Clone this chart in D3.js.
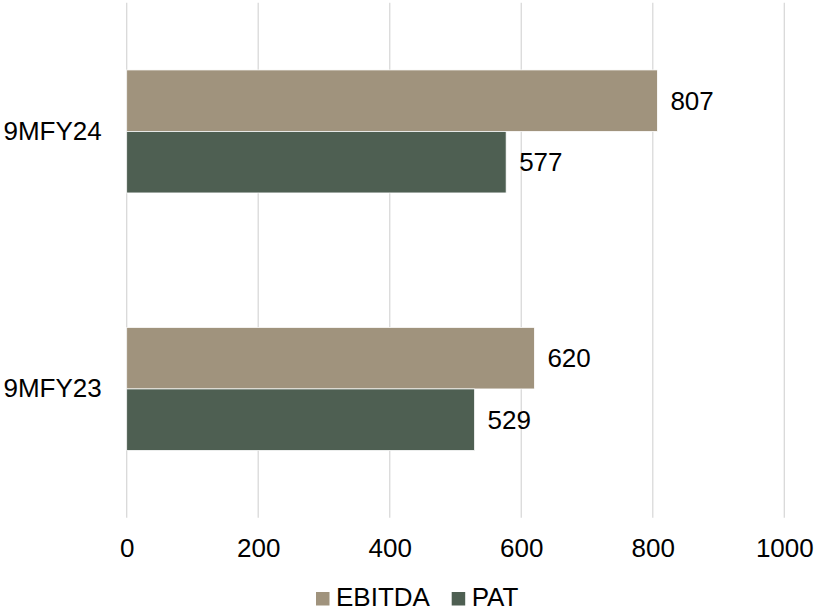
<!DOCTYPE html>
<html>
<head>
<meta charset="utf-8">
<script src="https://cdn.jsdelivr.net/npm/d3@7"></script>
<style>
  html, body { margin: 0; padding: 0; background: #fff; }
  svg { display: block; font-family: "Liberation Sans", Arial, sans-serif; }
</style>
</head>
<body>
<svg id="chart" width="814" height="611"></svg>
<script>
// Data
const categories = ["9MFY24", "9MFY23"];
const seriesNames = ["EBITDA", "PAT"];
const ebitda = [807, 620];
const pat = [577, 529];
const xTicks = [0, 200, 400, 600, 800, 1000];

const colors = { EBITDA: "#A0937D", PAT: "#4E5F52" };
const values = { EBITDA: ebitda, PAT: pat };
const fontSize = 26;

const svg = d3.select("#chart");
const plot = { left: 126.7, right: 784.3, top: 2.7, bottom: 517.7 };

const x = d3.scaleLinear().domain([0, 1000]).range([plot.left, plot.right]);
const y = d3.scaleBand().domain(categories).range([plot.top, plot.bottom]).paddingInner(0).paddingOuter(0);
const sub = d3.scaleBand().domain(seriesNames)
  .range([y.bandwidth() / 2 - 61.5, y.bandwidth() / 2 + 61.5]).padding(0);

// Vertical gridlines
svg.append("g").selectAll("line").data(xTicks).join("line")
  .attr("x1", d => x(d)).attr("x2", d => x(d))
  .attr("y1", plot.top).attr("y2", plot.bottom)
  .attr("stroke", "#D9D9D9").attr("stroke-width", 1.3);

// X axis tick labels
const xAxis = d3.axisBottom(x).tickValues(xTicks).tickSize(0).tickPadding(0).tickFormat(d3.format("d"));
const gx = svg.append("g").attr("transform", `translate(0, 548)`).call(xAxis);
gx.select(".domain").remove();
gx.selectAll("text").attr("font-size", fontSize).attr("fill", "#000")
  .attr("dy", "0.35em").attr("font-family", "Liberation Sans, Arial, sans-serif");

// Category labels
const yAxis = d3.axisLeft(y).tickSize(0).tickPadding(25);
const gy = svg.append("g").attr("transform", `translate(${plot.left}, 0)`).call(yAxis);
gy.select(".domain").remove();
gy.selectAll("text").attr("font-size", fontSize).attr("fill", "#000")
  .attr("font-family", "Liberation Sans, Arial, sans-serif");

// Bars and value labels
const groups = svg.append("g").selectAll("g").data(categories).join("g")
  .attr("transform", c => `translate(0, ${y(c)})`);

seriesNames.forEach(s => {
  groups.append("rect")
    .attr("x", x(0))
    .attr("y", sub(s))
    .attr("width", (c, i) => x(values[s][i]) - x(0))
    .attr("height", sub.bandwidth())
    .attr("fill", colors[s])
    .attr("stroke", "#fff").attr("stroke-width", 0.75);
  groups.append("text")
    .attr("x", (c, i) => x(values[s][i]) + 13)
    .attr("y", sub(s) + sub.bandwidth() / 2)
    .attr("dy", "0.35em")
    .attr("font-size", fontSize).attr("fill", "#000")
    .text((c, i) => values[s][i]);
});

// Legend
const legend = svg.append("g");
const legendItems = [
  { name: "EBITDA", sx: 316 },
  { name: "PAT", sx: 451.7 }
];
legendItems.forEach(it => {
  legend.append("rect").attr("x", it.sx).attr("y", 592).attr("width", 13.5).attr("height", 13.5)
    .attr("fill", colors[it.name]);
  legend.append("text").attr("x", it.sx + 20).attr("y", 605.7)
    .attr("font-size", fontSize).attr("fill", "#000").text(it.name);
});
</script>
</body>
</html>
